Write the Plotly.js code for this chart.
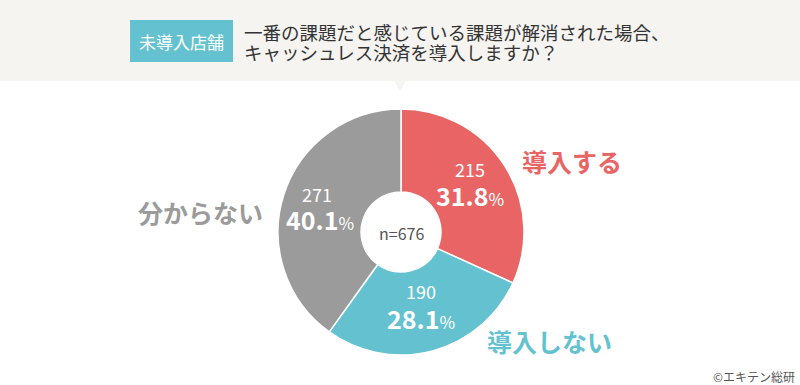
<!DOCTYPE html>
<html>
<head>
<meta charset="utf-8">
<script src="https://cdn.plot.ly/plotly-3.0.1.min.js"></script>
<style>html,body{margin:0;padding:0;background:#fff;}#chart{width:800px;height:385px;}</style>
</head>
<body>
<div id="chart"></div>
<script>
const categories = ["導入する", "導入しない", "分からない"];
const counts = [215, 190, 271];
const percents = ["31.8", "28.1", "40.1"];
const colors = ["#E96565", "#64C2D0", "#9B9B9B"];
const sampleLabel = "n=676";
const badgeText = "未導入店舗";
const titleLines = ["一番の課題だと感じている課題が解消された場合、", "キャッシュレス決済を導入しますか？"];
const creditText = "©エキテン総研";

const W = 800, H = 385;
const px = x => x / W;
const py = y => 1 - y / H;
const FONT = "Noto Sans CJK JP, Noto Sans, sans-serif";

const cx = 401, cy = 232, R = 123;

const trace = {
  type: "pie",
  labels: categories,
  values: counts,
  sort: false,
  direction: "clockwise",
  rotation: 0,
  hole: 0.325,
  marker: {colors: colors, line: {color: "#ffffff", width: 1.5}},
  textinfo: "none",
  hoverinfo: "none",
  showlegend: false,
  domain: {x: [px(cx - R), px(cx + R)], y: [py(cy + R), py(cy - R)]}
};

// label placement (pixels): outside category label, count line, percent line
const outsidePos = [[572, 161], [549, 341], [200, 212]];
const countPos = [[470, 169], [421, 291], [317, 194]];
const pctPos = [[470, 195], [421, 318], [320, 219]];

const annotations = [];
categories.forEach((c, i) => {
  annotations.push({
    text: "<b>" + c + "</b>",
    x: px(outsidePos[i][0]), y: py(outsidePos[i][1]),
    xref: "paper", yref: "paper", xanchor: "center", yanchor: "middle",
    showarrow: false,
    font: {family: FONT, size: 25, color: colors[i]}
  });
  annotations.push({
    text: String(counts[i]),
    x: px(countPos[i][0]), y: py(countPos[i][1]),
    xref: "paper", yref: "paper", xanchor: "center", yanchor: "middle",
    showarrow: false,
    font: {family: FONT, size: 18, color: "#ffffff"}
  });
  annotations.push({
    text: "<b>" + percents[i] + "</b><span style='font-size:17px'>%</span>",
    x: px(pctPos[i][0]), y: py(pctPos[i][1]),
    xref: "paper", yref: "paper", xanchor: "center", yanchor: "middle",
    showarrow: false,
    font: {family: FONT, size: 25, color: "#ffffff"}
  });
});

annotations.push(
  {text: sampleLabel, x: px(cx), y: py(cy + 1), xref: "paper", yref: "paper", xanchor: "center", yanchor: "middle", showarrow: false, font: {family: FONT, size: 16, color: "#555555"}},
  {text: creditText, x: px(797), y: py(376), xref: "paper", yref: "paper", xanchor: "right", yanchor: "middle", showarrow: false, font: {family: FONT, size: 12, color: "#555555"}},
  {text: badgeText, x: px(181.5), y: py(41), xref: "paper", yref: "paper", xanchor: "center", yanchor: "middle", showarrow: false, font: {family: FONT, size: 17, color: "#ffffff"}},
  {text: titleLines[0], x: px(242), y: py(32), xref: "paper", yref: "paper", xanchor: "left", yanchor: "middle", showarrow: false, font: {family: FONT, size: 18.5, color: "#333333"}},
  {text: titleLines[1], x: px(242), y: py(52), xref: "paper", yref: "paper", xanchor: "left", yanchor: "middle", showarrow: false, font: {family: FONT, size: 18.5, color: "#333333"}}
);

const shapes = [
  {type: "rect", xref: "paper", yref: "paper", x0: 0, x1: 1, y0: py(81), y1: 1, fillcolor: "#F5F4F1", line: {width: 0}, layer: "below"},
  {type: "path", xref: "paper", yref: "paper", path: `M ${px(394)} ${py(80.5)} L ${px(406)} ${py(80.5)} L ${px(400)} ${py(91)} Z`, fillcolor: "#F5F4F1", line: {width: 0}, layer: "below"},
  {type: "rect", xref: "paper", yref: "paper", x0: px(130), x1: px(233), y0: py(62), y1: py(20), fillcolor: "#64C2D0", line: {width: 0}, layer: "below"}
];

const layout = {
  width: W, height: H,
  margin: {l: 0, r: 0, t: 0, b: 0},
  paper_bgcolor: "#ffffff",
  plot_bgcolor: "#ffffff",
  font: {family: FONT},
  showlegend: false,
  annotations: annotations,
  shapes: shapes
};

Plotly.newPlot("chart", [trace], layout, {displayModeBar: false, staticPlot: true});
</script>
</body>
</html>
